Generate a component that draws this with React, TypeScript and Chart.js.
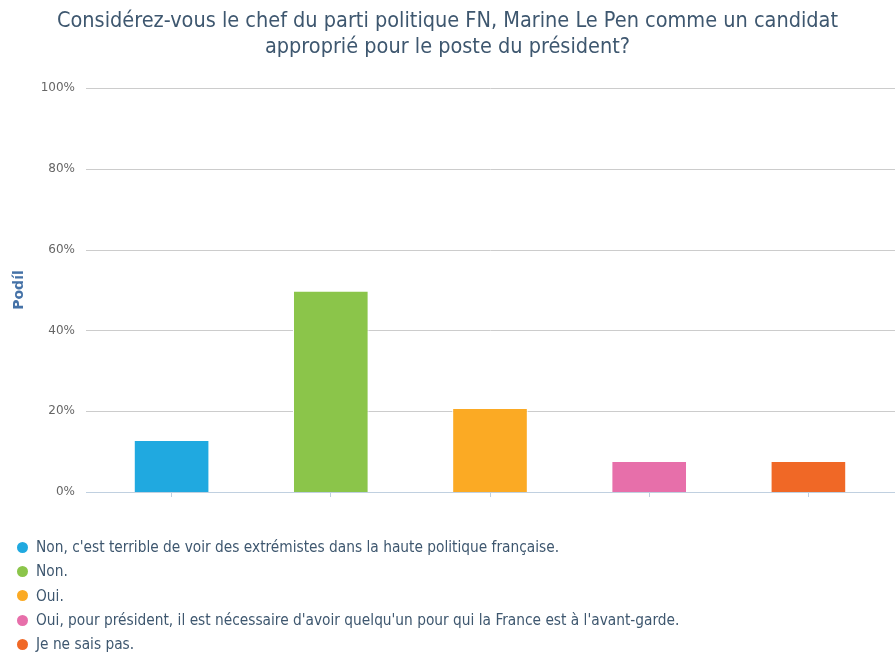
import React, { useEffect, useRef } from "react";
import { Chart, registerables } from "chart.js";

Chart.register(...registerables);

const TITLE_LINES = [
  "Considérez-vous le chef du parti politique FN, Marine Le Pen comme un candidat",
  "approprié pour le poste du président?",
];
const CATEGORIES = [
  "Non, c'est terrible de voir des extrémistes dans la haute politique française.",
  "Non.",
  "Oui.",
  "Oui, pour président, il est nécessaire d'avoir quelqu'un pour qui la France est à l'avant-garde.",
  "Je ne sais pas.",
];
const VALUES = [12.9, 49.8, 20.8, 7.7, 7.7];
const COLORS = ["#20A9E0", "#8BC54A", "#FBAA24", "#E76FAA", "#F06826"];
const Y_MIN = 0;
const Y_MAX = 100;
const Y_STEP = 20;
const Y_TITLE = "Podíl";

const FONT = '"DejaVu Sans", Verdana, sans-serif';
const COND_FONT = '"DejaVu Sans Condensed", "DejaVu Sans", sans-serif';

const extendedGrid = {
  id: "extendedGrid",
  beforeDatasetsDraw(chart: any) {
    const { ctx, chartArea } = chart;
    const y = chart.scales.y;
    ctx.save();
    ctx.lineWidth = 1;
    y.ticks.forEach((t: any) => {
      const py = Math.round(y.getPixelForValue(t.value)) + 0.5;
      ctx.strokeStyle = t.value === 0 ? "#C0D0E0" : "#CCCCCC";
      ctx.beginPath();
      ctx.moveTo(chartArea.left - 6, py);
      ctx.lineTo(chart.width, py);
      ctx.stroke();
    });
    ctx.restore();
  },
};

export default function App() {
  const ref = useRef<HTMLCanvasElement | null>(null);

  useEffect(() => {
    document.body.style.margin = "0";
    if (!ref.current) return;
    const chart = new Chart(ref.current, {
      type: "bar",
      data: {
        labels: CATEGORIES,
        datasets: [
          {
            data: VALUES,
            backgroundColor: COLORS,
            borderColor: "#ffffff",
            borderWidth: 1,
            categoryPercentage: 1,
            barPercentage: 0.475,
          },
        ],
      },
      options: {
        responsive: false,
        animation: false,
        layout: { padding: { left: 0, right: 0, top: 0, bottom: 158 } },
        plugins: {
          legend: { display: false },
          tooltip: { enabled: false },
          title: {
            display: true,
            text: TITLE_LINES,
            color: "#3E576F",
            font: { family: COND_FONT, size: 21.5, weight: "normal", lineHeight: 1.21 },
            padding: { top: 8, bottom: 28 },
          },
        },
        scales: {
          x: {
            ticks: { display: false },
            grid: {
              display: true,
              drawOnChartArea: false,
              drawTicks: true,
              tickLength: 5,
              color: "#C0D0E0",
              offset: false,
            },
            border: { display: false },
            afterFit: (s: any) => {
              s.height = 5;
            },
          },
          y: {
            min: Y_MIN,
            max: Y_MAX,
            ticks: {
              stepSize: Y_STEP,
              callback: (v: any) => v + "%",
              color: "#666666",
              font: { family: FONT, size: 12 },
              padding: 17,
            },
            grid: { display: false, drawTicks: false },
            border: { display: false },
            title: {
              display: true,
              text: Y_TITLE,
              color: "#4572A7",
              font: { family: FONT, size: 14, weight: "bold" },
              padding: { top: 11, bottom: 0 },
            },
            afterFit: (s: any) => {
              s.width = 92;
            },
          },
          gutter: {
            type: "linear",
            position: "right",
            display: true,
            ticks: { display: false },
            grid: { display: false, drawTicks: false },
            border: { display: false },
            afterFit: (s: any) => {
              s.width = 7;
            },
          },
        },
      },
      plugins: [extendedGrid],
    });
    return () => chart.destroy();
  }, []);

  return (
    <div style={{ position: "relative", width: 895, height: 655, overflow: "hidden" }}>
      <canvas ref={ref} width={895} height={655} style={{ position: "absolute", left: 0, top: 0 }} />
      <div
        style={{
          position: "absolute",
          left: 17,
          top: 535,
          fontFamily: COND_FONT,
          fontSize: 15.3,
          color: "#3E576F",
          lineHeight: "24.3px",
        }}
      >
        {CATEGORIES.map((c, i) => (
          <div key={i} style={{ display: "flex", alignItems: "center", whiteSpace: "nowrap" }}>
            <span
              style={{
                display: "inline-block",
                width: 11,
                height: 11,
                borderRadius: "50%",
                background: COLORS[i],
                marginRight: 8,
              }}
            />
            <span>{c}</span>
          </div>
        ))}
      </div>
    </div>
  );
}
